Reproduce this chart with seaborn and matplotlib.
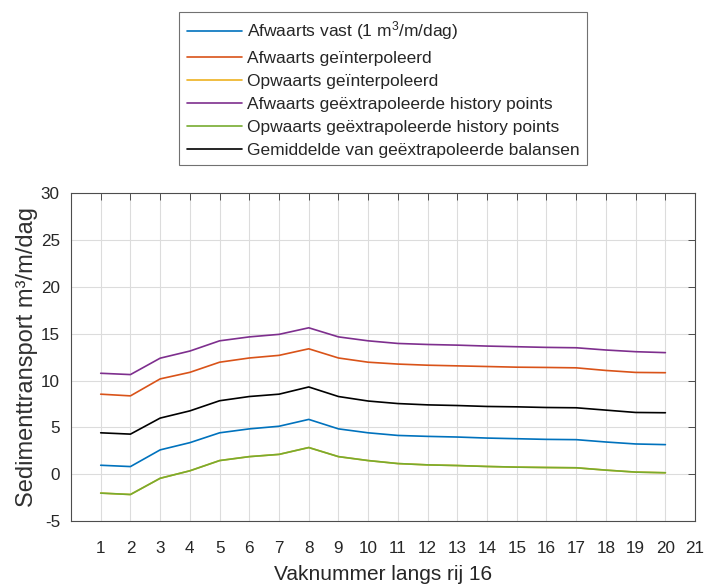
import numpy as np
import pandas as pd
import matplotlib
matplotlib.use("Agg")
import matplotlib.pyplot as plt
import seaborn as sns

vak = list(range(1, 21))
afw_vast = [0.97, 0.83, 2.61, 3.38, 4.43, 4.85, 5.13, 5.86, 4.85, 4.43,
            4.15, 4.05, 3.98, 3.87, 3.80, 3.73, 3.70, 3.45, 3.24, 3.17]
afw_interp = [8.55, 8.37, 10.18, 10.88, 11.96, 12.41, 12.69, 13.39, 12.41, 11.96,
              11.76, 11.64, 11.57, 11.50, 11.43, 11.40, 11.36, 11.08, 10.87, 10.84]
opw_extrap = [-2.0, -2.15, -0.42, 0.38, 1.47, 1.89, 2.13, 2.86, 1.89, 1.47,
              1.15, 1.01, 0.94, 0.84, 0.77, 0.73, 0.70, 0.45, 0.24, 0.17]
opw_interp = list(opw_extrap)  # hidden underneath in the reference
afw_extrap = [10.78, 10.64, 12.39, 13.15, 14.24, 14.66, 14.93, 15.63, 14.66, 14.24,
              13.96, 13.85, 13.78, 13.68, 13.61, 13.54, 13.50, 13.26, 13.08, 12.98]
gemiddeld = [4.43, 4.29, 6.00, 6.77, 7.85, 8.30, 8.55, 9.32, 8.30, 7.82,
             7.55, 7.41, 7.34, 7.24, 7.20, 7.13, 7.10, 6.85, 6.60, 6.57]

labels = ["Afwaarts vast (1 m$^3$/m/dag)",
          "Afwaarts geïnterpoleerd",
          "Opwaarts geïnterpoleerd",
          "Afwaarts geëxtrapoleerde history points",
          "Opwaarts geëxtrapoleerde history points",
          "Gemiddelde van geëxtrapoleerde balansen"]
series = [afw_vast, afw_interp, opw_interp, afw_extrap, opw_extrap, gemiddeld]
colors = ["#0072BD", "#D95319", "#EDB120", "#7E2F8E", "#77AC30", "#000000"]

sns.set_style("white")
plt.rcParams['font.family'] = ['Liberation Sans', 'DejaVu Sans']
plt.rcParams['mathtext.default'] = 'regular'
plt.rcParams['axes.unicode_minus'] = False

fig = plt.figure(figsize=(7.1, 5.85), dpi=100)
ax = fig.add_axes([0.100, 0.109, 0.879, 0.561])

for lab, ys, c in zip(labels, series, colors):
    sns.lineplot(x=vak, y=ys, ax=ax, color=c, label=lab, linewidth=1.2)

ax.set_xlim(0, 21)
ax.set_ylim(-5, 30)
ax.set_xticks(range(1, 22))
ax.set_yticks(range(-5, 31, 5))
ax.grid(True, color="#dcdcdc", linewidth=0.8)
ax.set_axisbelow(True)
for s in ax.spines.values():
    s.set_color("#4d4d4d")
    s.set_linewidth(0.8)
ax.tick_params(axis='both', direction='in', length=5, width=0.7, color="#4d4d4d",
               labelsize=12.3, labelcolor="#262626", top=True, right=True)
ax.tick_params(axis='x', pad=14)
ax.tick_params(axis='y', pad=8)
ax.set_xlabel("Vaknummer langs rij 16", fontsize=15, color="#262626", labelpad=6.5)
ax.set_ylabel("Sedimenttransport m³/m/dag", fontsize=17, color="#303030", labelpad=2)

handles, labs = ax.get_legend_handles_labels()
ax.get_legend().remove()
leg = fig.legend(handles, labs, loc='upper center', bbox_to_anchor=(0.54, 0.979),
                 fontsize=12.5, frameon=True, fancybox=False, handlelength=3.2,
                 labelspacing=0.46, borderpad=0.42, handletextpad=0.3,
                 borderaxespad=0)
leg.get_frame().set_edgecolor("#4d4d4d")
leg.get_frame().set_linewidth(0.8)
for t in leg.get_texts():
    t.set_color("#262626")

fig.savefig("out.png", dpi=100)
